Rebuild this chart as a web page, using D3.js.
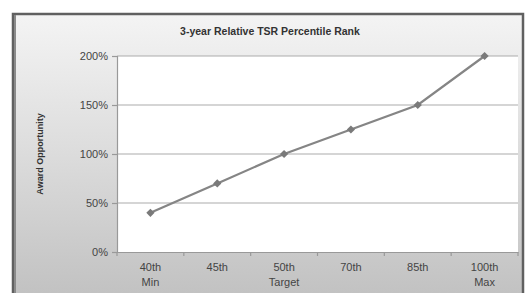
<!DOCTYPE html>
<html>
<head>
<meta charset="utf-8">
<script src="https://cdnjs.cloudflare.com/ajax/libs/d3/7.8.5/d3.min.js"></script>
<style>
  body { margin: 0; background: #fff; }
  svg { display: block; font-family: "Liberation Sans", Arial, sans-serif; }
</style>
</head>
<body>
<div id="chart"></div>
<script>
var categories = ["40th", "45th", "50th", "70th", "85th", "100th"];
var subLabels = ["Min", "", "Target", "", "", "Max"];
var awardValues = [40, 70, 100, 125, 150, 200];
var yTicks = [0, 50, 100, 150, 200];

var w = 532, h = 293;
var plot = {left: 117, right: 518, top: 56, bottom: 252};

var svg = d3.select("#chart").append("svg")
    .attr("width", w)
    .attr("height", h);

var defs = svg.append("defs");
var grad = defs.append("linearGradient")
    .attr("id", "frameBg")
    .attr("gradientUnits", "userSpaceOnUse")
    .attr("x1", 0).attr("y1", 14).attr("x2", 0).attr("y2", 293);
grad.append("stop").attr("offset", "0").attr("stop-color", "#f4f4f4");
grad.append("stop").attr("offset", "0.5").attr("stop-color", "#dcdcdc");
grad.append("stop").attr("offset", "1").attr("stop-color", "#c2c2c2");

// outer frame
svg.append("rect")
    .attr("x", 13).attr("y", 14)
    .attr("width", 510).attr("height", 282)
    .style("fill", "url(#frameBg)")
    .attr("stroke", "#606060")
    .attr("stroke-width", 2.5);
svg.append("line")
    .attr("x1", 15).attr("x2", 15).attr("y1", 15).attr("y2", 293)
    .attr("stroke", "#8a8a8a").attr("stroke-width", 2);

svg.append("text")
    .attr("x", 270).attr("y", 35)
    .attr("text-anchor", "middle")
    .attr("font-size", 10.5)
    .attr("font-weight", "bold")
    .attr("fill", "#333")
    .text("3-year Relative TSR Percentile Rank");

var x = d3.scaleBand()
    .domain(categories)
    .range([plot.left, plot.right]);

var y = d3.scaleLinear()
    .domain([0, 200])
    .range([plot.bottom, plot.top]);

svg.append("rect")
    .attr("x", plot.left).attr("y", plot.top)
    .attr("width", plot.right - plot.left)
    .attr("height", plot.bottom - plot.top)
    .attr("fill", "#fff");

// gridlines
svg.append("g").selectAll("line")
    .data(yTicks.filter(function (d) { return d > 0; }))
    .enter().append("line")
    .attr("x1", plot.left).attr("x2", plot.right)
    .attr("y1", function (d) { return y(d); })
    .attr("y2", function (d) { return y(d); })
    .attr("stroke", "#acacac")
    .attr("stroke-width", 1.2);

// y axis
var yAxis = svg.append("g")
    .attr("transform", "translate(" + plot.left + ",0)")
    .call(d3.axisLeft(y).tickValues(yTicks).tickSize(5).tickPadding(4)
        .tickFormat(function (d) { return d + "%"; }));
yAxis.selectAll("path, line").attr("stroke", "#999").attr("stroke-width", 1.2);
yAxis.selectAll("text")
    .attr("font-size", 11)
    .attr("fill", "#444")
    .attr("font-family", "\"Liberation Sans\", Arial, sans-serif");

// x axis
var xAxis = svg.append("g")
    .attr("transform", "translate(0," + plot.bottom + ")")
    .call(d3.axisBottom(x).tickSize(0).tickPadding(11));
xAxis.select("path").attr("stroke", "#999").attr("stroke-width", 1.2);
xAxis.selectAll("text")
    .attr("font-size", 11)
    .attr("fill", "#444")
    .attr("font-family", "\"Liberation Sans\", Arial, sans-serif");
xAxis.selectAll(".tick text")
    .append("tspan")
    .attr("x", 0)
    .attr("dy", "1.35em")
    .text(function (d, i) { return subLabels[i]; });

// x tick marks at category boundaries
var bounds = categories.map(function (c) { return x(c); }).concat([plot.right]);
svg.append("g").selectAll("line")
    .data(bounds)
    .enter().append("line")
    .attr("x1", function (d) { return d; })
    .attr("x2", function (d) { return d; })
    .attr("y1", plot.bottom)
    .attr("y2", plot.bottom + 4)
    .attr("stroke", "#999")
    .attr("stroke-width", 1.2);

svg.append("text")
    .attr("transform", "translate(43," + ((plot.top + plot.bottom) / 2) + ") rotate(-90)")
    .attr("text-anchor", "middle")
    .attr("font-size", 9)
    .attr("font-weight", "bold")
    .attr("fill", "#333")
    .text("Award Opportunity");

var pts = categories.map(function (c, i) {
    return [x(c) + x.bandwidth() / 2, y(awardValues[i])];
});

svg.append("path")
    .attr("d", d3.line()(pts))
    .attr("fill", "none")
    .attr("stroke", "#858585")
    .attr("stroke-width", 2.2);

svg.append("g").selectAll("path")
    .data(pts)
    .enter().append("path")
    .attr("transform", function (d) { return "translate(" + d[0] + "," + d[1] + ") rotate(45)"; })
    .attr("d", d3.symbol().type(d3.symbolSquare).size(34))
    .attr("fill", "#7a7a7a");
</script>
</body>
</html>
